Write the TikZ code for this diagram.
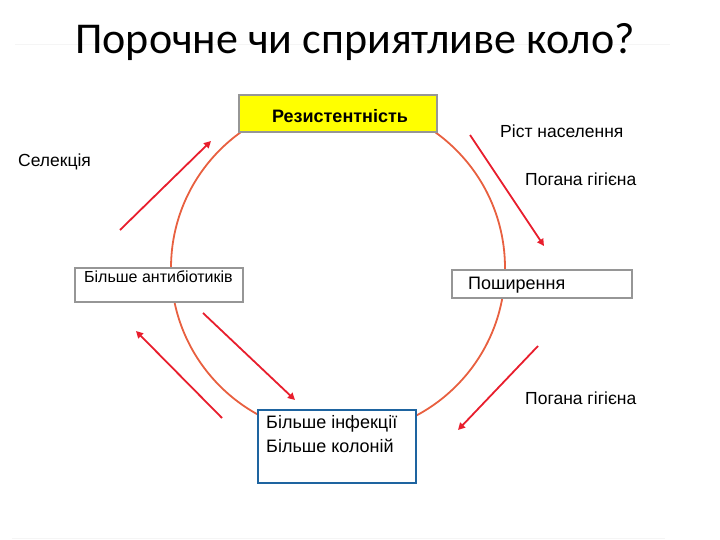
\documentclass[tikz,border=0pt]{standalone}
\usepackage{fontspec}
\setmainfont{Liberation Sans}
\newfontfamily\titlefont{Carlito}
\usetikzlibrary{arrows.meta}
\definecolor{ringred}{RGB}{232,96,64}
\definecolor{arrred}{RGB}{232,30,45}
\definecolor{boxgray}{RGB}{150,150,150}
\definecolor{boxblue}{RGB}{30,100,160}
\definecolor{resyellow}{RGB}{255,255,0}
\tikzset{
  lbl/.style={font=\fontsize{17.5}{20}\selectfont, inner sep=0pt, anchor=west},
  boxtext/.style={font=\fontsize{17.5}{20}\selectfont, inner sep=0pt, anchor=west},
  frame/.style={draw=boxgray, line width=1.6pt, fill=white},
  redarrow/.style={draw=arrred, line width=1.8pt, -{Triangle[length=7pt,width=7pt]}},
}
\begin{document}
\begin{tikzpicture}[x=1pt,y=-1pt]
\useasboundingbox (0,0) rectangle (720,540);
% faint rules
\draw[black!4, line width=1pt] (15,45) -- (670,45);
\draw[black!4, line width=1pt] (12,538) -- (665,538);
% title
\node[font=\titlefont\fontsize{44}{50}\selectfont, inner sep=0pt] (title) at (355,42) {Порочне чи сприятливе коло?};
% ring
\draw[ringred, line width=1.8pt] (338,268) circle[radius=167];
% boxes
\node[frame, fill=resyellow, minimum width=198pt, minimum height=37pt, inner sep=0pt] (res) at (338,113.5) {};
\node[font=\bfseries\fontsize{18}{20}\selectfont, inner sep=0pt] (restext) at (340,116) {Резистентність};
\node[frame, minimum width=168pt, minimum height=34pt, inner sep=0pt] (anti) at (159,285) {};
\node[boxtext, font=\fontsize{16}{18}\selectfont] (antitext) at (84,277) {Більше антибіотиків};
\node[frame, minimum width=180pt, minimum height=28pt, inner sep=0pt] (spread) at (542,284) {};
\node[boxtext, font=\fontsize{18}{20}\selectfont] (spreadtext) at (468,285) {Поширення};
\node[draw=boxblue, line width=1.6pt, fill=white, minimum width=158pt, minimum height=73pt, inner sep=0pt] (inf) at (337,446.5) {};
\node[boxtext, font=\fontsize{18}{20}\selectfont] (inftext1) at (266,424) {Більше інфекції};
\node[boxtext, font=\fontsize{18}{20}\selectfont] (inftext2) at (266,446) {Більше колоній};
% labels
\node[lbl] (sel) at (18,162) {Селекція};
\node[lbl] (pop) at (500,131) {Ріст населення};
\node[lbl] (hyg1) at (525,179) {Погана гігієна};
\node[lbl] (hyg2) at (525,398) {Погана гігієна};
% arrows
\coordinate (a1s) at (120,230); \coordinate (a1e) at (211,141);
\coordinate (a2s) at (470,135); \coordinate (a2e) at (544,246);
\coordinate (a3s) at (538,346); \coordinate (a3e) at (458,430);
\coordinate (a4s) at (203,313); \coordinate (a4e) at (295,400);
\coordinate (a5s) at (222,418); \coordinate (a5e) at (136,331);
\draw[redarrow] (a1s) -- (a1e);
\draw[redarrow] (a2s) -- (a2e);
\draw[redarrow] (a3s) -- (a3e);
\draw[redarrow] (a4s) -- (a4e);
\draw[redarrow] (a5s) -- (a5e);
\end{tikzpicture}
\end{document}
